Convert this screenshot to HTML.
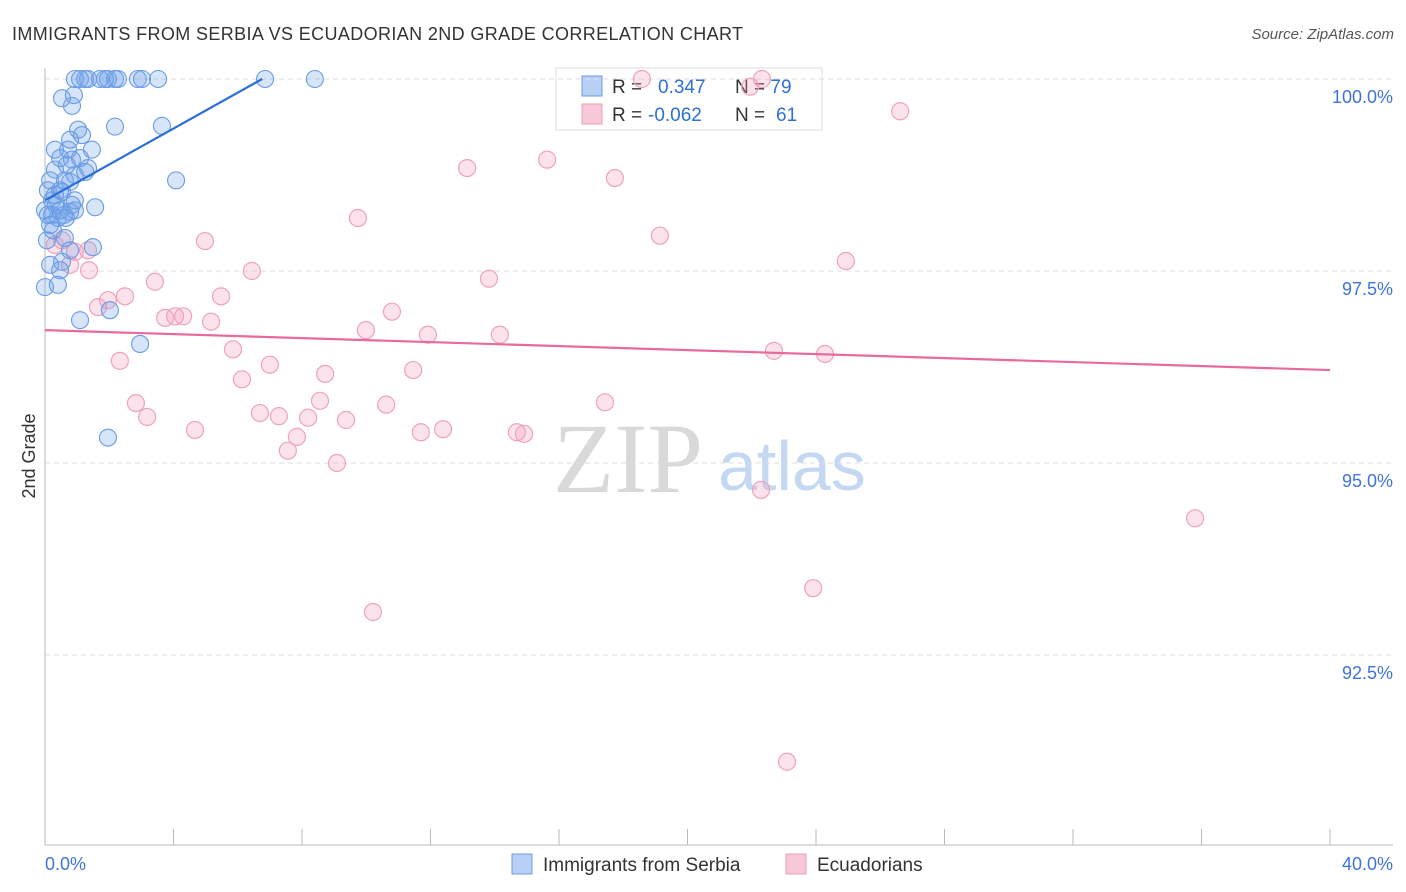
<!DOCTYPE html>
<html><head><meta charset="utf-8"><style>
body{margin:0;background:#fff;font-family:"Liberation Sans",sans-serif;}
svg{display:block}
</style></head><body>
<svg id="chart" width="1406" height="892">
<text x="12" y="40" font-size="18" fill="#333" textLength="731">IMMIGRANTS FROM SERBIA VS ECUADORIAN 2ND GRADE CORRELATION CHART</text>
<text x="1394" y="39" font-size="15" fill="#555" font-style="italic" text-anchor="end">Source: ZipAtlas.com</text>
<g>
<text x="553" y="492" font-size="100" fill="#d9d9d9" font-family="Liberation Serif,serif">ZIP</text>
<text x="718" y="490" font-size="70" fill="#c5d8f2">atlas</text>
</g>
<g>
<rect x="556" y="68" width="266" height="62" fill="#fff" stroke="#ddd"/>
<rect x="582" y="76" width="20" height="20" fill="#b8d0f5" stroke="#6a9be0"/>
<rect x="582" y="104" width="20" height="20" fill="#f8c8d8" stroke="#eaa0b8"/>
<text x="612" y="93" font-size="19" fill="#333">R = <tspan fill="#2f6fd6" x="658">0.347</tspan><tspan x="735">N = </tspan><tspan fill="#2f6fd6">79</tspan></text>
<text x="612" y="121" font-size="19" fill="#333">R = <tspan fill="#2f6fd6" x="648">-0.062</tspan><tspan x="735">N = </tspan><tspan fill="#2f6fd6" x="776">61</tspan></text>
</g>
<g id="grid"></g><g id="axes"></g><g id="marks"></g>
<text x="35" y="456" font-size="18" fill="#333" text-anchor="middle" transform="rotate(-90 35 456)">2nd Grade</text>
<g>
<rect x="512" y="854" width="20" height="20" fill="#b8d0f5" stroke="#6a9be0"/>
<text x="543" y="871" font-size="19" fill="#333">Immigrants from Serbia</text>
<rect x="786" y="854" width="20" height="20" fill="#f8c8d8" stroke="#eaa0b8"/>
<text x="817" y="871" font-size="19" fill="#333">Ecuadorians</text>
</g>
</svg>
<script>
const blueX=[0.93,1.09,1.25,1.34,1.71,1.87,1.96,2.18,2.27,2.89,3.02,3.52,6.85,8.40,0.53,0.90,0.84,2.18,3.64,4.08,0.31,0.72,0.47,0.84,1.09,1.46,1.03,1.15,0.78,1.34,0.31,0.62,0.78,0.16,0.93,0.22,0.34,0.47,0.78,0.93,1.56,0.09,0.22,0.40,0.59,0,0.16,0.65,0.93,0.25,0.62,1.49,0.78,0.53,0.16,0.47,0,0.40,2.02,1.09,2.96,1.96,0.09,0.31,0.53,1.25,0.68,0.47,0.06,0.84];
const blueY=[100,100,100,100,100,100,100,100,100,100,100,100,100,100,99.75,99.79,99.65,99.38,99.39,98.68,99.08,99.08,98.97,98.95,98.97,99.08,99.34,99.27,99.21,98.84,98.82,98.68,98.66,98.68,98.75,98.42,98.36,98.29,98.27,98.29,98.33,98.23,98.23,98.19,98.23,98.29,98.10,98.19,98.42,98.03,97.93,97.81,97.77,97.62,97.58,97.51,97.29,97.32,96.99,96.86,96.55,95.33,98.55,98.49,98.53,98.79,98.88,98.55,97.90,98.36];
const pinkX=[18.58,22.32,21.95,26.62,15.63,13.14,17.74,9.74,19.14,4.98,24.93,6.44,13.82,1.37,0.78,0.31,0.93,2.49,3.42,5.48,1.65,1.96,3.74,4.05,4.30,5.17,10.80,9.99,11.92,14.16,5.85,2.33,7.00,6.13,8.72,11.46,22.69,24.28,2.83,3.18,4.67,6.69,7.28,8.19,8.56,9.37,10.62,7.84,7.56,11.70,12.39,14.69,14.91,17.43,9.09,22.29,35.80,23.91,10.21,23.10,0.53,1.34];
const pinkY=[100,100,99.90,99.58,98.95,98.84,98.71,98.19,97.96,97.89,97.63,97.50,97.40,97.51,97.58,97.84,97.75,97.17,97.36,97.17,97.03,97.12,96.89,96.91,96.91,96.84,96.97,96.73,96.67,96.67,96.48,96.33,96.28,96.09,96.16,96.21,96.46,96.42,95.78,95.60,95.43,95.65,95.61,95.59,95.81,95.56,95.76,95.34,95.16,95.40,95.44,95.40,95.38,95.79,95.00,94.65,94.28,93.37,93.06,91.11,97.90,97.77];
const blueTrendX=[0,6.76], blueTrendY=[98.42,100];
const pinkTrendX=[0,40], pinkTrendY=[96.73,96.21];
const yTicks=[100,97.5,95,92.5];
const yTickLabels=["100.0%","97.5%","95.0%","92.5%"];
const xTicks=[0,4,8,12,16,20,24,28,32,36,40];
const xEdgeLabels=["0.0%","40.0%"];

const NS="http://www.w3.org/2000/svg";
const sx=v=>45+v/40*1285;
const sy=v=>79+(100-v)/2.5*192;
function mk(parent,tag,attrs){const e=document.createElementNS(NS,tag);for(const k in attrs)e.setAttribute(k,attrs[k]);document.getElementById(parent).appendChild(e);return e;}
yTicks.forEach((t,i)=>{
  const g=mk('grid','line',{x1:45,x2:1393,y1:sy(t),y2:sy(t),stroke:'#ddd','stroke-dasharray':'5,4'});
  
  
  const l=mk('axes','text',{x:1393,y:sy(t)+24,'font-size':18,fill:'#3f74d8','text-anchor':'end'});
  l.textContent=yTickLabels[i];
  
  
});
let a=mk('axes','line',{x1:45,x2:45,y1:68,y2:845,stroke:'#bbb'});


a=mk('axes','line',{x1:45,x2:1393,y1:845,y2:845,stroke:'#bbb'});


xTicks.forEach(t=>{
  const e=mk('axes','line',{x1:sx(t),x2:sx(t),y1:829,y2:845,stroke:'#bbb'});
  
  
});
let xl=mk('axes','text',{x:45,y:870,'font-size':18,fill:'#3f74d8'});xl.textContent=xEdgeLabels[0];


xl=mk('axes','text',{x:1393,y:870,'font-size':18,fill:'#3f74d8','text-anchor':'end'});xl.textContent=xEdgeLabels[1];


pinkX.forEach((x,i)=>{
  const c=mk('marks','circle',{cx:sx(x),cy:sy(pinkY[i]),r:8.5,fill:'rgba(245,160,190,0.3)',stroke:'#eda3bb','stroke-width':1.2});
  
  
});
blueX.forEach((x,i)=>{
  const c=mk('marks','circle',{cx:sx(x),cy:sy(blueY[i]),r:8.5,fill:'rgba(110,160,235,0.28)',stroke:'#6a9be3','stroke-width':1.1});
  
  
});
let tl=mk('marks','line',{x1:sx(blueTrendX[0]),y1:sy(blueTrendY[0]),x2:sx(blueTrendX[1]),y2:sy(blueTrendY[1]),stroke:'#2a6fd8','stroke-width':2.2});


tl=mk('marks','line',{x1:sx(pinkTrendX[0]),y1:sy(pinkTrendY[0]),x2:sx(pinkTrendX[1]),y2:sy(pinkTrendY[1]),stroke:'#e8699a','stroke-width':2.2});


</script>
</body></html>
